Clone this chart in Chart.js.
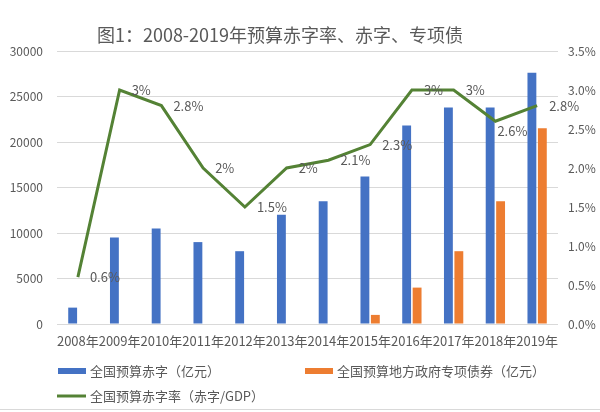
<!DOCTYPE html>
<html>
<head>
<meta charset="utf-8">
<script src="https://cdn.jsdelivr.net/npm/chart.js@4/dist/chart.umd.min.js"></script>
<style>
  body { margin: 0; background: #fff; }
  #wrap { width: 600px; height: 412px; }
</style>
</head>
<body>
<div id="wrap"><canvas id="chart" width="600" height="412"></canvas></div>
<script>
'use strict';

const categories = ['2008年', '2009年', '2010年', '2011年', '2012年', '2013年',
  '2014年', '2015年', '2016年', '2017年', '2018年', '2019年'];
const deficit = [1800, 9500, 10500, 9000, 8000, 12000, 13500, 16200, 21800, 23800, 23800, 27600];
const specialBonds = [null, null, null, null, null, null, null, 1000, 4000, 8000, 13500, 21500];
const deficitRate = [0.6, 3, 2.8, 2, 1.5, 2, 2.1, 2.3, 3, 3, 2.6, 2.8];

const seriesNames = ['全国预算赤字（亿元）', '全国预算地方政府专项债券（亿元）', '全国预算赤字率（赤字/GDP）'];
const titleText = '图1：2008-2019年预算赤字率、赤字、专项债';

const FONT = '"Noto Sans CJK SC", "Noto Sans", sans-serif';
const GREY = '#595959';
const BLUE = '#4472C4';
const ORANGE = '#ED7D31';
const GREEN = '#548235';

// title, point labels and legend are painted by hand so they sit where the original has them
const extras = {
  id: 'extras',
  afterDatasetsDraw(chart) {
    const ctx = chart.ctx;
    ctx.save();
    ctx.fillStyle = GREY;
    ctx.font = '13px ' + FONT;
    ctx.textAlign = 'left';
    ctx.textBaseline = 'middle';
    const meta = chart.getDatasetMeta(2);
    meta.data.forEach(function (pt, i) {
      // the 2018 label sits under the dip in the original
      if (i === 10) {
        ctx.fillText(deficitRate[i] + '%', pt.x + 2, pt.y + 10);
      } else {
        ctx.fillText(deficitRate[i] + '%', pt.x + 12, pt.y);
      }
    });
    ctx.restore();
  },
  afterDraw(chart) {
    const ctx = chart.ctx;
    ctx.save();
    ctx.fillStyle = GREY;
    ctx.textBaseline = 'middle';
    ctx.textAlign = 'center';
    ctx.font = '18px ' + FONT;
    ctx.fillText(titleText, 280, 35);

    ctx.textAlign = 'left';
    ctx.font = '13px ' + FONT;
    ctx.fillStyle = BLUE;
    ctx.fillRect(58, 368, 28, 6);
    ctx.fillStyle = ORANGE;
    ctx.fillRect(305, 368, 28, 6);
    ctx.strokeStyle = GREEN;
    ctx.lineWidth = 3;
    ctx.beginPath();
    ctx.moveTo(57, 396);
    ctx.lineTo(86, 396);
    ctx.stroke();
    ctx.fillStyle = GREY;
    ctx.fillText(seriesNames[0], 90, 371);
    ctx.fillText(seriesNames[1], 337, 371);
    ctx.fillText(seriesNames[2], 90, 396);

    ctx.strokeStyle = '#d9d9d9';
    ctx.lineWidth = 1;
    ctx.beginPath();
    ctx.moveTo(0, 409.5);
    ctx.lineTo(600, 409.5);
    ctx.stroke();
    ctx.restore();
  }
};

new Chart(document.getElementById('chart'), {
  type: 'bar',
  data: {
    labels: categories,
    datasets: [
      {
        label: seriesNames[0],
        data: deficit,
        backgroundColor: BLUE,
        categoryPercentage: 0.5,
        barPercentage: 0.85,
        yAxisID: 'y',
        order: 1
      },
      {
        label: seriesNames[1],
        data: specialBonds,
        backgroundColor: ORANGE,
        categoryPercentage: 0.5,
        barPercentage: 0.85,
        yAxisID: 'y',
        order: 1
      },
      {
        type: 'line',
        label: seriesNames[2],
        data: deficitRate,
        borderColor: GREEN,
        borderWidth: 3,
        pointRadius: 0,
        tension: 0,
        yAxisID: 'y1',
        order: 0
      }
    ]
  },
  options: {
    responsive: false,
    animation: false,
    layout: { padding: { top: 51, bottom: 0, left: 0, right: 0 } },
    plugins: {
      legend: { display: false },
      title: { display: false },
      tooltip: { enabled: false }
    },
    scales: {
      x: {
        grid: { display: false, drawTicks: false },
        border: { display: false },
        ticks: {
          color: GREY,
          font: { family: FONT, size: 13 },
          padding: 9,
          maxRotation: 0,
          autoSkip: false
        },
        afterFit: function (scale) { scale.height = 88; }
      },
      y: {
        position: 'left',
        min: 0,
        max: 30000,
        grid: { color: '#d9d9d9', drawTicks: false },
        border: { display: false },
        ticks: {
          stepSize: 5000,
          color: GREY,
          font: { family: FONT, size: 12 },
          padding: 14,
          callback: function (v) { return String(v); }
        },
        afterFit: function (scale) { scale.width = 57; }
      },
      y1: {
        position: 'right',
        min: 0,
        max: 3.5,
        grid: { display: false, drawTicks: false },
        border: { display: false },
        ticks: {
          stepSize: 0.5,
          color: GREY,
          font: { family: FONT, size: 12 },
          padding: 10,
          callback: function (v) { return v.toFixed(1) + '%'; }
        },
        afterFit: function (scale) { scale.width = 42; }
      }
    }
  },
  plugins: [extras]
});
</script>
</body>
</html>
